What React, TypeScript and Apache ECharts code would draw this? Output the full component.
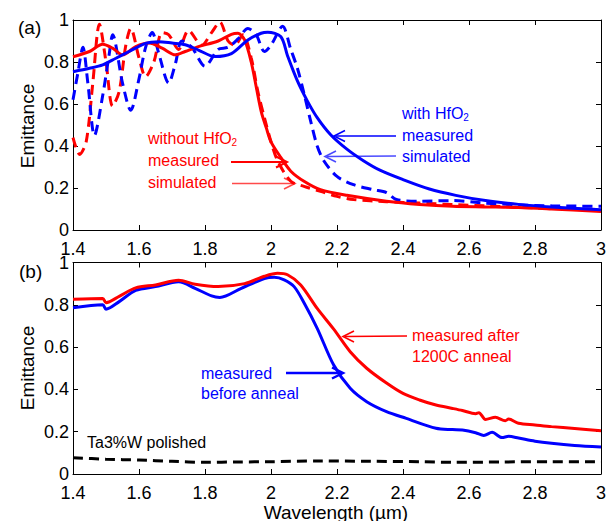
import React, { useEffect, useRef } from "react";
import * as echarts from "echarts";

// ---------- data (wavelength µm, emittance) ----------
const aRedMeasured: [number, number][] = [
  [1.4, 0.825], [1.45, 0.85], [1.49, 0.885], [1.52, 0.866], [1.55, 0.834], [1.59, 0.873],
  [1.63, 0.89], [1.67, 0.866], [1.71, 0.834], [1.74, 0.85], [1.78, 0.873], [1.84, 0.9],
  [1.88, 0.932], [1.9, 0.937], [1.92, 0.905], [1.94, 0.8], [1.956, 0.675], [1.971, 0.56],
  [1.986, 0.485], [2.0, 0.42], [2.03, 0.345], [2.06, 0.28], [2.1, 0.232], [2.15, 0.192],
  [2.23, 0.165], [2.35, 0.137], [2.45, 0.122], [2.55, 0.113], [2.65, 0.11], [2.75, 0.107],
  [2.85, 0.1], [3.0, 0.088],
];
const aBlueMeasured: [number, number][] = [
  [1.4, 0.754], [1.45, 0.77], [1.49, 0.786], [1.53, 0.818], [1.57, 0.85], [1.62, 0.889],
  [1.66, 0.897], [1.7, 0.89], [1.74, 0.882], [1.78, 0.857], [1.83, 0.826], [1.88, 0.84],
  [1.93, 0.905], [1.97, 0.937], [1.99, 0.942], [2.03, 0.92], [2.05, 0.83], [2.08, 0.71],
  [2.11, 0.615], [2.14, 0.535], [2.18, 0.455], [2.23, 0.385], [2.28, 0.33], [2.33, 0.285],
  [2.4, 0.24], [2.48, 0.195], [2.56, 0.165], [2.65, 0.14], [2.75, 0.122], [2.85, 0.11], [3.0, 0.097],
];
const aRedSimulated: [number, number][] = [
  [1.4, 0.44], [1.42, 0.36], [1.44, 0.42], [1.46, 0.7], [1.48, 0.98], [1.5, 0.8], [1.52, 0.59],
  [1.54, 0.66], [1.56, 0.88], [1.575, 0.96], [1.6, 0.82], [1.62, 0.73], [1.645, 0.8], [1.67, 0.94],
  [1.69, 0.93], [1.72, 0.86], [1.75, 0.95], [1.79, 0.88], [1.82, 0.94], [1.845, 0.99], [1.87, 0.9],
  [1.89, 0.88], [1.915, 0.93], [1.94, 0.82], [1.96, 0.66], [1.98, 0.535], [2.0, 0.42], [2.02, 0.33],
  [2.06, 0.232], [2.1, 0.208], [2.15, 0.184], [2.2, 0.16], [2.25, 0.145], [2.35, 0.135],
  [2.45, 0.128], [2.55, 0.121], [2.65, 0.115], [2.8, 0.105], [3.0, 0.097],
];
const aBlueSimulated: [number, number][] = [
  [1.4, 0.62], [1.415, 0.75], [1.43, 0.87], [1.445, 0.7], [1.465, 0.45], [1.49, 0.64], [1.51, 0.84],
  [1.52, 0.93], [1.55, 0.7], [1.575, 0.57], [1.6, 0.72], [1.62, 0.87], [1.64, 0.94], [1.66, 0.84],
  [1.69, 0.7], [1.71, 0.79], [1.73, 0.9], [1.76, 0.87], [1.8, 0.78], [1.84, 0.86], [1.87, 0.87],
  [1.9, 0.91], [1.93, 0.96], [1.955, 0.93], [1.98, 0.85], [2.0, 0.88], [2.035, 0.97], [2.06, 0.86],
  [2.08, 0.77], [2.1, 0.65], [2.12, 0.52], [2.14, 0.4], [2.16, 0.33], [2.2, 0.255], [2.25, 0.216],
  [2.31, 0.192], [2.35, 0.178], [2.38, 0.145], [2.45, 0.137], [2.55, 0.14], [2.65, 0.128],
  [2.75, 0.12], [2.85, 0.115], [3.0, 0.113],
];
const bRedAfterAnneal: [number, number][] = [
  [1.4, 0.826], [1.49, 0.83], [1.5, 0.81], [1.54, 0.84], [1.59, 0.88], [1.65, 0.894], [1.72, 0.916],
  [1.77, 0.897], [1.84, 0.886], [1.92, 0.9], [1.98, 0.935], [2.02, 0.949], [2.05, 0.942],
  [2.09, 0.894], [2.14, 0.783], [2.19, 0.685], [2.24, 0.578], [2.29, 0.5], [2.35, 0.43],
  [2.4, 0.381], [2.45, 0.35], [2.5, 0.326], [2.55, 0.31], [2.58, 0.3], [2.62, 0.285], [2.63, 0.29],
  [2.65, 0.258], [2.68, 0.268], [2.71, 0.252], [2.72, 0.26], [2.75, 0.24], [2.8, 0.232],
  [2.85, 0.224], [2.92, 0.215], [3.0, 0.205],
];
const bBlueBeforeAnneal: [number, number][] = [
  [1.4, 0.786], [1.49, 0.8], [1.5, 0.779], [1.54, 0.815], [1.59, 0.868], [1.65, 0.886],
  [1.72, 0.909], [1.77, 0.878], [1.82, 0.842], [1.845, 0.835], [1.91, 0.878], [1.98, 0.924],
  [2.01, 0.93], [2.04, 0.918], [2.07, 0.886], [2.1, 0.81], [2.14, 0.689], [2.19, 0.515],
  [2.24, 0.405], [2.29, 0.342], [2.35, 0.295], [2.41, 0.263], [2.5, 0.216], [2.55, 0.21],
  [2.58, 0.208], [2.62, 0.195], [2.645, 0.182], [2.67, 0.197], [2.7, 0.172], [2.72, 0.178],
  [2.75, 0.17], [2.8, 0.155], [2.85, 0.145], [2.92, 0.135], [3.0, 0.128],
];
const bTaWPolished: [number, number][] = [
  [1.4, 0.077], [1.5, 0.07], [1.6, 0.066], [1.7, 0.06], [1.8, 0.055], [1.9, 0.057], [2.0, 0.058],
  [2.15, 0.062], [2.3, 0.06], [2.45, 0.058], [2.55, 0.055], [2.7, 0.057], [2.85, 0.058], [3.0, 0.058],
];

const FONT = "'Liberation Sans', Arial, Helvetica, sans-serif";
const RED = "#ff0000";
const BLUE = "#0000ff";

function xAxes(grid: number) {
  const common: any = {
    type: "value", min: 1.4, max: 3, interval: 0.2, gridIndex: grid,
    axisLine: { show: true, onZero: false, lineStyle: { color: "#000", width: 1 } },
    axisTick: { show: true, inside: true, length: 5, lineStyle: { color: "#000" } },
    splitLine: { show: false },
  };
  return [
    { ...common, position: "bottom", axisLabel: { fontSize: 18, color: "#000", fontFamily: FONT, margin: 10,
      formatter: (v: number) => String(Math.round(v * 10) / 10) } },
    { ...common, position: "top", axisLabel: { show: false } },
  ];
}
function yAxes(grid: number) {
  const common: any = {
    type: "value", min: 0, max: 1, interval: 0.2, gridIndex: grid,
    axisLine: { show: true, onZero: false, lineStyle: { color: "#000", width: 1 } },
    axisTick: { show: true, inside: true, length: 5, lineStyle: { color: "#000" } },
    splitLine: { show: false },
  };
  return [
    { ...common, position: "left", axisLabel: { fontSize: 18, color: "#000", fontFamily: FONT, margin: 4,
      formatter: (v: number) => String(Math.round(v * 10) / 10) } },
    { ...common, position: "right", axisLabel: { show: false } },
  ];
}

function line(data: [number, number][], color: string, grid: number, dashed: boolean, name: string) {
  return {
    name, type: "line", data, xAxisIndex: grid * 2, yAxisIndex: grid * 2,
    showSymbol: false, symbol: "none", smooth: 0.3,
    lineStyle: { color, width: 3, type: dashed ? [10, 6] : "solid" },
  };
}

function txt(text: string, x: number, y: number, fill: string, size = 16) {
  return {
    type: "text", x, y,
    style: { text, fill, fontSize: size, fontFamily: FONT, align: "left", verticalAlign: "middle",
      textAlign: "left", textVerticalAlign: "middle" },
  };
}
function subTxt(main: string, sub: string, x: number, y: number, fill: string) {
  return {
    type: "text", x, y,
    style: {
      text: `{n|${main}}{s|${sub}}`, fill, fontFamily: FONT, align: "left", verticalAlign: "middle",
      rich: {
        n: { fontSize: 16, fill, fontFamily: FONT, lineHeight: 18 },
        s: { fontSize: 10, fill, fontFamily: FONT, verticalAlign: "bottom", lineHeight: 10 },
      },
    },
  };
}
function arrow(x1: number, y1: number, x2: number, y2: number, color: string, w: number) {
  const dir = Math.sign(x2 - x1);
  const L = 11, H = 5.5;
  return [
    { type: "line", shape: { x1, y1, x2: x2 - dir * 2, y2 }, style: { stroke: color, lineWidth: w } },
    { type: "polyline", shape: { points: [[x2 - dir * L, y2 - H], [x2, y2], [x2 - dir * L, y2 + H]] },
      style: { stroke: color, lineWidth: Math.max(w, 1.6), fill: "none" } },
  ];
}
function vText(text: string, x: number, y: number) {
  return { type: "text", x, y, rotation: Math.PI / 2,
    style: { text, fill: "#000", fontSize: 19, fontFamily: FONT, align: "center",
      verticalAlign: "middle", textAlign: "center", textVerticalAlign: "middle" } };
}

export default function App() {
  const ref = useRef<HTMLDivElement>(null);
  useEffect(() => {
    const chart = echarts.init(ref.current!, null, { renderer: "svg" });
    const option: any = {
      animation: false,
      backgroundColor: "#fff",
      grid: [
        { left: 73, right: 9, top: 20, height: 210 },
        { left: 73, right: 9, top: 262.5, height: 211.5 },
      ],
      xAxis: [...xAxes(0), ...xAxes(1)],
      yAxis: [...yAxes(0), ...yAxes(1)],
      series: [
        line(aRedSimulated, RED, 0, true, "without HfO2 simulated"),
        line(aBlueSimulated, BLUE, 0, true, "with HfO2 simulated"),
        line(aRedMeasured, RED, 0, false, "without HfO2 measured"),
        line(aBlueMeasured, BLUE, 0, false, "with HfO2 measured"),
        line(bTaWPolished, "#000", 1, true, "Ta3%W polished"),
        line(bBlueBeforeAnneal, BLUE, 1, false, "measured before anneal"),
        line(bRedAfterAnneal, RED, 1, false, "measured after 1200C anneal"),
      ],
      graphic: [
        txt("(a)", 18, 27, "#000", 19),
        txt("(b)", 19, 271, "#000", 19),
        vText("Emittance", 27, 126),
        vText("Emittance", 27, 368),
        { type: "text", x: 336, y: 512,
          style: { text: "Wavelength (\u00b5m)", fill: "#000", fontSize: 19, fontFamily: FONT, align: "center",
            verticalAlign: "middle", textAlign: "center", textVerticalAlign: "middle" } },
        subTxt("without HfO", "2", 148, 138, RED),
        txt("measured", 148, 160, RED),
        txt("simulated", 148, 182, RED),
        ...arrow(231, 162, 287, 162, RED, 2),
        ...arrow(232, 183.5, 295, 183.5, "#ff4a4a", 1.4),
        subTxt("with HfO", "2", 402, 113, BLUE),
        txt("measured", 402, 135, BLUE),
        txt("simulated", 402, 156, BLUE),
        ...arrow(396, 136, 334, 136, BLUE, 1.5),
        ...arrow(396, 156, 325, 156.5, "#4a4aff", 1.4),
        txt("measured", 201, 373, BLUE),
        txt("before anneal", 201, 393, BLUE),
        ...arrow(286, 373, 343, 373, BLUE, 2.5),
        txt("measured after", 412, 335, RED),
        txt("1200C anneal", 412, 356, RED),
        ...arrow(407, 336, 343, 336.5, RED, 1.4),
        txt("Ta3%W polished", 87, 442, "#000"),
      ],
    };
    chart.setOption(option);
    return () => chart.dispose();
  }, []);
  return <div ref={ref} style={{ position: "fixed", left: 0, top: 0, width: 610, height: 521 }} />;
}
